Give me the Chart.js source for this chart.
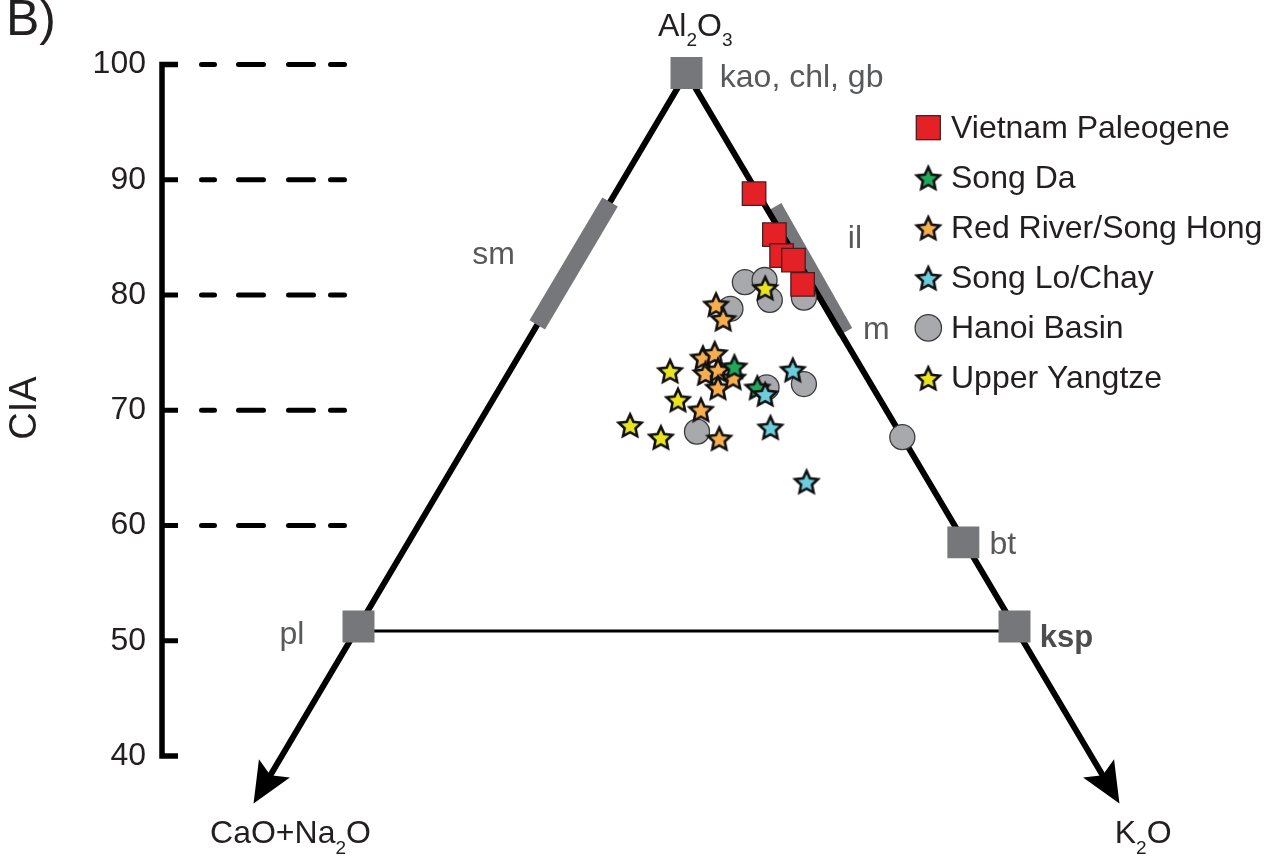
<!DOCTYPE html>
<html>
<head>
<meta charset="utf-8">
<script src="https://cdn.jsdelivr.net/npm/chart.js@4.4.1/dist/chart.umd.min.js"></script>
<style>
  html, body { margin: 0; padding: 0; background: #ffffff; }
  canvas { display: block; }
</style>
</head>
<body>
<canvas id="c" width="1275" height="856"></canvas>
<script>
// ================= DATA =================
// Ternary A-CN-K compositions (molar %): Al2O3 (= CIA axis) and K2O, CN = 100 - Al2O3 - K2O
const seriesNames = ['Vietnam Paleogene', 'Song Da', 'Red River/Song Hong', 'Song Lo/Chay', 'Hanoi Basin', 'Upper Yangtze'];

const vietnamPaleogeneAl = [89.1, 85.4, 83.5, 83.1, 80.9];
const vietnamPaleogeneK  = [10.6, 14.0, 15.5, 16.6, 18.4];

const songDaAl = [73.5, 71.6];
const songDaK  = [16.9, 19.6];

const redRiverAl = [79.1, 77.8, 74.3, 74.7, 72.9, 73.2, 71.6, 72.5, 69.6, 67.0];
const redRiverK  = [12.7, 13.9, 14.1, 14.8, 15.0, 15.8, 16.6, 17.3, 16.3, 19.0];

const songLoAl = [71.0, 73.2, 68.0, 63.1];
const songLoK  = [20.5, 21.5, 22.4, 27.6];

const hanoiBasinAl = [81.1, 81.3, 79.5, 79.7, 78.7, 67.6, 71.6, 71.9, 67.1];
const hanoiBasinK  = [13.9, 15.3, 16.6, 19.1, 14.0, 17.0, 20.3, 23.0, 32.9];

const upperYangtzeAl = [80.6, 73.1, 70.5, 68.2, 67.1];
const upperYangtzeK  = [15.7, 12.2, 14.1, 11.6, 14.5];

// reference minerals
const mineralNames = ['kao, chl, gb', 'bt', 'pl', 'ksp'];
const mineralAl = [100, 57.6, 50, 50];
const mineralK  = [0, 42.3, 0, 50];

// mineral fields (bars)
const smectiteAl = [88.35, 77.25];
const smectiteK  = [0, 0];
const illiteAl = [87.9, 76.6];
const illiteK  = [12.75, 23.8];

// triangle frame, feldspar join and arrow tips
const frameAl = [36, 100, 36];
const frameK  = [0, 0, 64];
const feldsparJoinAl = [49.6, 49.6];
const feldsparJoinK  = [0, 50.4];
const arrowTipAl = 34;

// CIA axis
const ciaTicks  = [40, 50, 60, 70, 80, 90, 100];
const ciaGuides = [60, 70, 80, 90, 100];

// ================= LAYOUT / STYLE =================
const FONT = '"Liberation Sans", Arial, Helvetica, sans-serif';
Chart.defaults.font.family = FONT;

const AREA = { left: 162, right: 1275, top: 10, bottom: 806 };
const APEX_PX = { x: 686.5, y: 73 };
const X_UNIT_PX = 13.12, A_UNIT_PX = 11.07;
const X_MIN = 50 - (APEX_PX.x - AREA.left) / X_UNIT_PX;
const X_MAX = 50 + (AREA.right - APEX_PX.x) / X_UNIT_PX;
const A_MAX = 100 + (APEX_PX.y - AREA.top) / A_UNIT_PX;
const A_MIN = 100 - (AREA.bottom - APEX_PX.y) / A_UNIT_PX;
const CIA_PX_100 = 64.5, CIA_PX_40 = 756;
const CIA_UNIT = (CIA_PX_40 - CIA_PX_100) / 60;
const CIA_MAX = 100 + (CIA_PX_100 - AREA.top) / CIA_UNIT;
const CIA_MIN = 40 - (AREA.bottom - CIA_PX_40) / CIA_UNIT;

const COLORS = {
  red: '#e42127', green: '#22a85a', orange: '#f7ae4f', cyan: '#6ccddc',
  grey: '#a7a9ac', yellow: '#e9e41f', mineral: '#76777a', text: '#231f20', label: '#58595b'
};

function makeStar(fill) {
  const R = 12, inner = 0.48, lw = 2.6, size = 36;
  const c = document.createElement('canvas');
  c.width = size; c.height = size;
  const g = c.getContext('2d');
  const cx = size / 2, cy = size / 2 + 1.4;
  g.beginPath();
  for (let i = 0; i < 10; i++) {
    const r = i % 2 ? R * inner : R;
    const ang = -Math.PI / 2 + i * Math.PI / 5;
    g.lineTo(cx + r * Math.cos(ang), cy + r * Math.sin(ang));
  }
  g.closePath();
  g.fillStyle = fill; g.fill();
  g.lineJoin = 'miter'; g.lineWidth = lw; g.strokeStyle = '#111111'; g.stroke();
  return c;
}
const stars = {
  green: makeStar(COLORS.green), orange: makeStar(COLORS.orange),
  cyan: makeStar(COLORS.cyan), yellow: makeStar(COLORS.yellow)
};

// ternary projection: x = K2O + Al2O3/2, y = Al2O3
const tern = (al, k) => al.map((a, i) => ({ x: k[i] + a / 2, y: a }));

function pointSet(label, al, k, style, extra, order) {
  return Object.assign({
    label, data: tern(al, k), yAxisID: 'yt', xAxisID: 'x',
    showLine: false, pointStyle: style, order, clip: false
  }, extra);
}
function lineSet(label, al, k, color, width, order) {
  return {
    label, data: tern(al, k), yAxisID: 'yt', xAxisID: 'x', showLine: true,
    borderColor: color, borderWidth: width, pointRadius: 0, tension: 0,
    borderCapStyle: 'butt', borderJoinStyle: 'miter', fill: false, order, clip: false
  };
}

const datasets = [
  pointSet(seriesNames[0], vietnamPaleogeneAl, vietnamPaleogeneK, 'rect',
    { pointRadius: 16.6, pointBackgroundColor: COLORS.red, pointBorderColor: '#4a1d1f', pointBorderWidth: 1.3 }, 1),
  pointSet(seriesNames[5], upperYangtzeAl, upperYangtzeK, stars.yellow, { pointRadius: 15 }, 2),
  pointSet(seriesNames[3], songLoAl, songLoK, stars.cyan, { pointRadius: 15 }, 3),
  pointSet(seriesNames[1], songDaAl, songDaK, stars.green, { pointRadius: 15 }, 4),
  pointSet(seriesNames[2], redRiverAl, redRiverK, stars.orange, { pointRadius: 15 }, 5),
  pointSet(seriesNames[4], hanoiBasinAl, hanoiBasinK, 'circle',
    { pointRadius: 12.5, pointBackgroundColor: COLORS.grey, pointBorderColor: '#3a3a3c', pointBorderWidth: 1.3 }, 6),
  pointSet('minerals', mineralAl, mineralK, 'rect',
    { pointRadius: 22.6, pointBackgroundColor: COLORS.mineral, pointBorderWidth: 0, pointBorderColor: COLORS.mineral }, 7),
  lineSet('sm', smectiteAl, smectiteK, COLORS.mineral, 18, 8),
  lineSet('frame', frameAl, frameK, '#000000', 6, 9),
  lineSet('feldspar join', feldsparJoinAl, feldsparJoinK, '#000000', 3, 9),
  lineSet('il', illiteAl, illiteK, COLORS.mineral, 16, 10)
];

// dash segments of the CIA guide lines (relative to axis)
const DASHES = [[37, 55], [74, 104], [124, 154], [166, 185]];

const deco = {
  id: 'deco',
  beforeDatasetsDraw(chart) {
    const { ctx, chartArea, scales: { y } } = chart;
    const x0 = chartArea.left;
    ctx.save();
    ctx.strokeStyle = '#000000';
    ctx.lineWidth = 5.5; ctx.lineJoin = 'miter'; ctx.lineCap = 'butt';
    const p100 = y.getPixelForValue(100), p40 = y.getPixelForValue(40);
    ctx.beginPath();
    ctx.moveTo(x0 + 16, p100); ctx.lineTo(x0, p100); ctx.lineTo(x0, p40); ctx.lineTo(x0 + 16, p40);
    ctx.stroke();
    ctx.lineWidth = 5;
    ciaTicks.filter(v => v !== 40 && v !== 100).forEach(v => {
      const p = y.getPixelForValue(v);
      ctx.beginPath(); ctx.moveTo(x0, p); ctx.lineTo(x0 + 16, p); ctx.stroke();
    });
    ctx.lineCap = 'round';
    ciaGuides.forEach(v => {
      const p = y.getPixelForValue(v);
      DASHES.forEach(([a, b]) => {
        ctx.beginPath(); ctx.moveTo(x0 + a + 2.5, p); ctx.lineTo(x0 + b - 2.5, p); ctx.stroke();
      });
    });
    ctx.restore();
  },
  afterDatasetsDraw(chart) {
    const { ctx, scales: { x, yt } } = chart;
    const P = (a, k) => ({ x: x.getPixelForValue(k + a / 2), y: yt.getPixelForValue(a) });
    const apex = P(100, 0);
    ctx.save();
    // arrowheads
    [P(arrowTipAl, 0), P(arrowTipAl, 100 - arrowTipAl)].forEach(tip => {
      const dx = apex.x - tip.x, dy = apex.y - tip.y, len = Math.hypot(dx, dy);
      const ux = dx / len, uy = dy / len, nx = -uy, ny = ux;
      const L = 41, W = 18, N = 33;
      ctx.beginPath();
      ctx.moveTo(tip.x, tip.y);
      ctx.lineTo(tip.x + ux * L + nx * W, tip.y + uy * L + ny * W);
      ctx.lineTo(tip.x + ux * N, tip.y + uy * N);
      ctx.lineTo(tip.x + ux * L - nx * W, tip.y + uy * L - ny * W);
      ctx.closePath();
      ctx.fillStyle = '#000000'; ctx.fill();
    });

    const txt = (s, px, py, size, color, weight) => {
      ctx.font = (weight || 'normal') + ' ' + size + 'px ' + FONT;
      ctx.fillStyle = color; ctx.textAlign = 'left'; ctx.textBaseline = 'alphabetic';
      ctx.fillText(s, px, py);
    };
    const rich = (parts, px, py) => {
      let cx = px;
      parts.forEach(([s, sub]) => {
        ctx.font = (sub ? 19 : 32) + 'px ' + FONT;
        ctx.fillStyle = COLORS.text; ctx.textAlign = 'left'; ctx.textBaseline = 'alphabetic';
        ctx.fillText(s, cx, sub ? py + 10.5 : py);
        cx += ctx.measureText(s).width;
      });
    };
    // corner labels
    const tipL = P(arrowTipAl, 0), tipR = P(arrowTipAl, 100 - arrowTipAl);
    rich([['Al'], ['2', true], ['O'], ['3', true]], apex.x - 28.5, apex.y - 37.3);
    rich([['CaO+Na'], ['2', true], ['O']], tipL.x - 43.5, tipL.y + 39.7);
    rich([['K'], ['2', true], ['O']], tipR.x - 4.7, tipR.y + 39.7);

    // mineral labels
    const kao = P(mineralAl[0], mineralK[0]);
    const bt = P(mineralAl[1], mineralK[1]);
    const pl = P(mineralAl[2], mineralK[2]);
    const ksp = P(mineralAl[3], mineralK[3]);
    txt(mineralNames[0], kao.x + 33.3, kao.y + 14.3, 32, COLORS.label);
    txt(mineralNames[1], bt.x + 26.2, bt.y + 11.6, 32, COLORS.label);
    txt(mineralNames[2], pl.x - 79, pl.y + 17.5, 32, COLORS.label);
    txt(mineralNames[3], ksp.x + 25.3, ksp.y + 20.2, 31, '#4d4d4f', 'bold');
    const smMid = P((smectiteAl[0] + smectiteAl[1]) / 2, (smectiteK[0] + smectiteK[1]) / 2);
    const ilMid = P((illiteAl[0] + illiteAl[1]) / 2, (illiteK[0] + illiteK[1]) / 2);
    txt('sm', smMid.x - 101.4, smMid.y + 0.6, 32, COLORS.label);
    txt('il', ilMid.x + 38, ilMid.y - 21.2, 32, COLORS.label);
    txt('m', ilMid.x + 53.1, ilMid.y + 69.8, 32, COLORS.label);

    // panel letter
    txt('B)', 6, 35, 50, COLORS.text);

    // legend
    const LX = 928.3, LY0 = 127.7, LSTEP = 50.05;
    const markers = [
      (cx, cy) => { ctx.fillStyle = COLORS.red; ctx.fillRect(cx - 12, cy - 12, 24, 24);
                    ctx.strokeStyle = '#4a1d1f'; ctx.lineWidth = 1.3; ctx.strokeRect(cx - 12, cy - 12, 24, 24); },
      (cx, cy) => ctx.drawImage(stars.green, cx - 18, cy - 18),
      (cx, cy) => ctx.drawImage(stars.orange, cx - 18, cy - 18),
      (cx, cy) => ctx.drawImage(stars.cyan, cx - 18, cy - 18),
      (cx, cy) => { ctx.beginPath(); ctx.arc(cx, cy, 13.2, 0, Math.PI * 2); ctx.fillStyle = COLORS.grey; ctx.fill();
                    ctx.strokeStyle = '#3a3a3c'; ctx.lineWidth = 1.3; ctx.stroke(); },
      (cx, cy) => ctx.drawImage(stars.yellow, cx - 18, cy - 18)
    ];
    seriesNames.forEach((name, i) => {
      const cy = LY0 + i * LSTEP;
      markers[i](LX, cy);
      txt(name, 951, cy + 10.5, 32, COLORS.text);
    });
    ctx.restore();
  }
};

new Chart(document.getElementById('c'), {
  type: 'scatter',
  data: { datasets },
  options: {
    responsive: false,
    animation: false,
    events: [],
    devicePixelRatio: 1,
    layout: { autoPadding: false, padding: { left: 0, right: 0, top: AREA.top, bottom: 856 - AREA.bottom } },
    plugins: { legend: { display: false }, tooltip: { enabled: false }, title: { display: false } },
    scales: {
      x: { type: 'linear', min: X_MIN, max: X_MAX, display: false },
      y: {
        type: 'linear', position: 'left', min: CIA_MIN, max: CIA_MAX,
        afterBuildTicks: s => { s.ticks = ciaTicks.map(v => ({ value: v })); },
        afterFit: s => { s.width = AREA.left; s.paddingTop = 0; s.paddingBottom = 0; },
        grid: { display: false, drawTicks: false },
        border: { display: false },
        ticks: { padding: 16, autoSkip: false, color: COLORS.text, font: { size: 32, family: FONT } },
        title: { display: true, text: 'CIA', color: COLORS.text, font: { size: 38, family: FONT }, padding: { top: 3, bottom: 0 } }
      },
      yt: { type: 'linear', position: 'left', min: A_MIN, max: A_MAX, display: false }
    }
  },
  plugins: [deco]
});
</script>
</body>
</html>
